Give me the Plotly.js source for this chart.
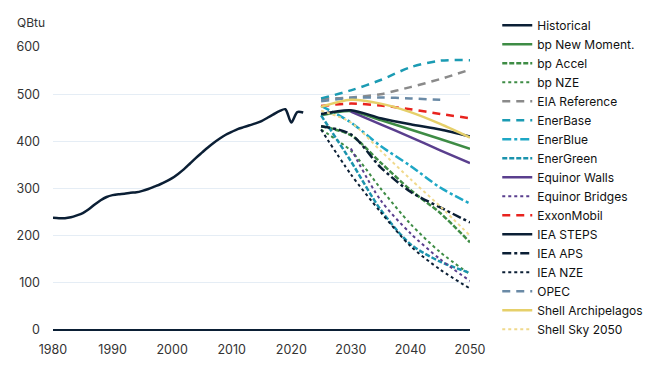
<!DOCTYPE html>
<html><head><meta charset="utf-8">
<script src="https://cdn.plot.ly/plotly-3.0.1.min.js"></script>
<style>html,body{margin:0;padding:0;background:#fff}#chart{width:650px;height:374px}</style>
</head><body><div id="chart"></div>
<script>
const histYears = [];
for (let y = 1980; y <= 2022; y++) histYears.push(y);
const historical = [238,237,237,239,243,248,256,266,275,282,
  286,288,289,291,292,295,299,304,309,315,
  322,331,341,353,365,376,387,397,406,414,
  420,426,430,434,438,443,450,457,464,468,
  440,462,461];

const projYears = [2025,2030,2035,2040,2045,2050];
const projYears30 = [2030,2035,2040,2045,2050];
const projYears45 = [2025,2030,2035,2040,2045];

const bpNewMomentum = [455,464,445,425,405,384];
const bpAccel = [432,413,355,297,248,186];
const bpNZE = [425,380,300,225,165,118];
const eiaReference = [490,493,500,515,532,552];
const enerBase = [491,508,530,557,571,572];
const enerBlue = [475,440,390,348,302,268];
const enerGreen = [455,358,255,182,145,121];
const equinorWalls = [463,436,409,381,354];
const equinorBridges = [385,275,205,150,104];
const exxonMobil = [475,480,476,468,458,449];
const ieaSteps = [458,466,449,436,425,410];
const ieaAps = [432,415,345,293,260,228];
const ieaNZE = [425,330,250,178,128,88];
const opec = [485,492,493,491,488];
const shellArchipelagos = [473,488,480,462,437,408];
const shellSky = [465,440,380,320,262,200];

const xTicks = [1980,1990,2000,2010,2020,2030,2040,2050];
const yTicks = [0,100,200,300,400,500,600];

function tr(name, x, y, color, dash, width) {
  return {type:'scatter', mode:'lines', name:name, x:x, y:y,
    line:{color:color, dash:dash||'solid', width:width||2.5, shape:'spline', smoothing:0.8},
    hoverinfo:'skip'};
}

const data = [
  tr('Historical', histYears, historical, '#0b1f35', 'solid', 2.5),
  tr('bp New Moment.', projYears, bpNewMomentum, '#3e8c45', 'solid'),
  tr('bp Accel', projYears, bpAccel, '#3e8c45', '5px,2px'),
  tr('bp NZE', projYears, bpNZE, '#3e8c45', 'dot', 2),
  tr('EIA Reference', projYears, eiaReference, '#8a8a8a', '8px,6px'),
  tr('EnerBase', projYears, enerBase, '#1b9bb3', '8px,6px'),
  tr('EnerBlue', projYears, enerBlue, '#1ea7c5', 'dashdot'),
  tr('EnerGreen', projYears, enerGreen, '#1b93ad', '5px,2px'),
  tr('Equinor Walls', projYears30, equinorWalls, '#5a3f8e', 'solid'),
  tr('Equinor Bridges', projYears30, equinorBridges, '#5a3f8e', 'dot', 2),
  tr('ExxonMobil', projYears, exxonMobil, '#e8231e', '8px,6px'),
  tr('IEA STEPS', projYears, ieaSteps, '#0b1f35', 'solid'),
  tr('IEA APS', projYears, ieaAps, '#0b1f35', 'dashdot'),
  tr('IEA NZE', projYears, ieaNZE, '#0b1f35', 'dot', 2),
  tr('OPEC', projYears45, opec, '#6a8aa6', '8px,6px'),
  tr('Shell Archipelagos', projYears, shellArchipelagos, '#e6d06a', 'solid'),
  tr('Shell Sky 2050', projYears, shellSky, '#f0d98c', 'dot', 2)
];

const layout = {
  width:650, height:374,
  margin:{l:53, r:180, t:47, b:44, autoexpand:false},
  paper_bgcolor:'#fff', plot_bgcolor:'#fff',
  font:{family:'Inter, Roboto, sans-serif', size:12, color:'#333'},
  showlegend:true,
  legend:{xref:'container', yref:'container', x:0.765, y:0.971, xanchor:'left', yanchor:'top',
    font:{family:'Inter, Roboto, sans-serif', size:12, color:'#111'},
    tracegroupgap:0, bgcolor:'rgba(0,0,0,0)', maxheight:370},
  xaxis:{range:[1980,2050], tickvals:xTicks, showgrid:false, zeroline:false,
    showline:false, ticks:'', tickfont:{size:12.5, color:'#333'}, ticklabelstandoff:10, fixedrange:true},
  yaxis:{range:[0,600], tickvals:yTicks, showgrid:true, gridcolor:'#e5edf5', gridwidth:1,
    zeroline:true, zerolinecolor:'#0b1f35', zerolinewidth:2, showline:false, ticks:'',
    tickfont:{size:12.5, color:'#333'}, ticklabelstandoff:12, fixedrange:true},
  annotations:[{text:'QBtu', xref:'paper', yref:'paper', x:-0.09, y:1.087,
    xanchor:'left', yanchor:'middle', showarrow:false, font:{size:12, color:'#333'}}]
};

Plotly.newPlot('chart', data, layout, {displayModeBar:false, staticPlot:true});
</script></body></html>
